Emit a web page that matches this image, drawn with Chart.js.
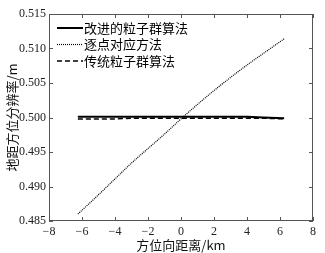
<!DOCTYPE html>
<html>
<head>
<meta charset="utf-8">
<script src="https://cdn.jsdelivr.net/npm/chart.js@4.4.1/dist/chart.umd.min.js"></script>
<style>
  html,body{margin:0;padding:0;background:#fff;}
  #wrap{width:325px;height:253px;position:relative;}
</style>
</head>
<body>
<div id="wrap"><canvas id="c"></canvas></div>
<script>
// datos
const xKm = [-6.25, -5, -4, -3, -2, -1, 0, 1, 2, 3, 4, 5, 6.25];
const mejorado = [0.5001, 0.5001, 0.5001, 0.5001, 0.5001, 0.5001, 0.5001, 0.5001, 0.5001, 0.5001, 0.5001, 0.5000, 0.4999];
const puntoAPunto = [0.4860, 0.4888, 0.4911, 0.4934, 0.4955, 0.4976, 0.4998, 0.5019, 0.5039, 0.5058, 0.5076, 0.5093, 0.5114];
const tradicional = [0.4998, 0.4998, 0.4998, 0.4999, 0.4999, 0.4999, 0.4999, 0.4999, 0.4999, 0.4999, 0.4999, 0.4999, 0.4998];
const nombres = ['改进的粒子群算法', '逐点对应方法', '传统粒子群算法'];
const xTicks = [-8, -6, -4, -2, 0, 2, 4, 6, 8];
const yTicks = [0.485, 0.490, 0.495, 0.500, 0.505, 0.510, 0.515];

const pts = ys => xKm.map((x,i)=>({x:x,y:ys[i]}));
const serif = 'Liberation Serif, Times New Roman, serif';
const cjk = 'Noto Sans CJK SC, sans-serif';

// marcas de escala hacia adentro en los cuatro lados + leyenda dentro del área
const extras = {
  id:'extras',
  afterDraw(chart){
    const ctx=chart.ctx, a=chart.chartArea, sx=chart.scales.x, sy=chart.scales.y;
    ctx.save();
    ctx.strokeStyle='#555'; ctx.lineWidth=1;
    ctx.strokeRect(a.left+0.5, a.top+0.5, a.right-a.left-1, a.bottom-a.top-1);
    ctx.beginPath();
    xTicks.forEach(v=>{
      const p=Math.round(sx.getPixelForValue(v))+0.5;
      ctx.moveTo(p,a.bottom); ctx.lineTo(p,a.bottom-4);
      ctx.moveTo(p,a.top); ctx.lineTo(p,a.top+4);
    });
    yTicks.forEach(v=>{
      const p=Math.round(sy.getPixelForValue(v))+0.5;
      ctx.moveTo(a.left,p); ctx.lineTo(a.left+4,p);
      ctx.moveTo(a.right,p); ctx.lineTo(a.right-4,p);
    });
    ctx.stroke();
    // leyenda
    ctx.font='13px '+cjk; ctx.textBaseline='middle'; ctx.fillStyle='#000';
    chart.data.datasets.forEach((ds,i)=>{
      const y=a.top+14+i*16.5;
      ctx.beginPath();
      ctx.strokeStyle='#000';
      ctx.lineWidth=ds.borderWidth;
      ctx.setLineDash(ds.legendDash);
      ctx.moveTo(a.left+8,y); ctx.lineTo(a.left+34,y);
      ctx.stroke();
      ctx.setLineDash([]);
      ctx.fillText(ds.label, a.left+35, y);
    });
    ctx.restore();
  }
};

new Chart(document.getElementById('c').getContext('2d'),{
  type:'line',
  data:{datasets:[
    {label:nombres[0],data:pts(mejorado),borderColor:'#000',borderWidth:2,pointRadius:0,fill:false,legendDash:[]},
    {label:nombres[1],data:pts(puntoAPunto),borderColor:'#000',borderWidth:1.2,borderDash:[1,1],pointRadius:0,fill:false,cubicInterpolationMode:'monotone',legendDash:[1,1]},
    {label:nombres[2],data:pts(tradicional),borderColor:'#000',borderWidth:1.5,borderDash:[5,3],pointRadius:0,fill:false,legendDash:[5,3]}
  ]},
  options:{
    responsive:true,maintainAspectRatio:false,animation:false,
    layout:{padding:{top:14,right:12,left:0,bottom:0}},
    plugins:{legend:{display:false},tooltip:{enabled:false}},
    scales:{
      x:{type:'linear',min:-8,max:8,
        afterBuildTicks:s=>{s.ticks=xTicks.map(v=>({value:v}));},
        afterFit:s=>{s.height=32;},
        grid:{display:false,drawTicks:false},border:{display:false},
        ticks:{color:'#222',padding:4,font:{family:serif,size:12},callback:v=>String(v).replace('-','\u2212')},
        title:{display:true,text:'方位向距离/km',color:'#111',padding:0,font:{family:cjk,size:13}}},
      y:{min:0.485,max:0.515,
        afterBuildTicks:s=>{s.ticks=yTicks.map(v=>({value:v}));},
        afterFit:s=>{s.width=49;},
        grid:{display:false,drawTicks:false},border:{display:false},
        ticks:{color:'#222',padding:3,font:{family:serif,size:12},callback:v=>v.toFixed(3)},
        title:{display:true,text:'地距方位分辨率/m',color:'#111',padding:{top:4,bottom:0},font:{family:cjk,size:13}}}
    }
  },
  plugins:[extras]
});
</script>
</body>
</html>
